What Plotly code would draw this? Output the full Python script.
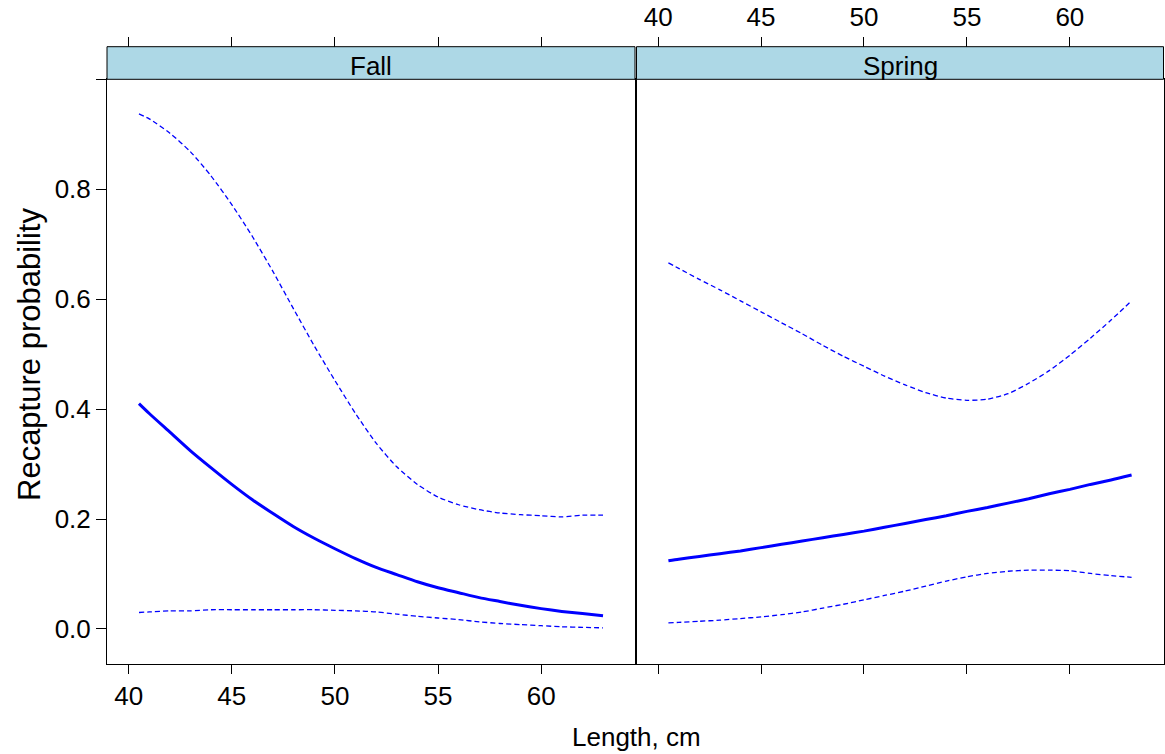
import plotly.graph_objects as go

# ---------------- data ----------------
length = [40.5, 41, 42, 43, 44, 45, 46, 47, 48, 49, 50, 51, 52, 53, 54, 55,
          56, 57, 58, 59, 60, 61, 62, 63]

fall_fit = [0.410, 0.392, 0.358, 0.324, 0.293, 0.263, 0.235, 0.210, 0.186,
            0.165, 0.146, 0.128, 0.112, 0.099, 0.086, 0.075, 0.066, 0.057,
            0.050, 0.043, 0.037, 0.032, 0.028, 0.024]
fall_upper = [0.937, 0.928, 0.902, 0.868, 0.824, 0.772, 0.714, 0.650, 0.582,
              0.515, 0.452, 0.392, 0.338, 0.295, 0.263, 0.240, 0.226, 0.217,
              0.211, 0.208, 0.206, 0.204, 0.207, 0.207]
fall_lower = [0.030, 0.031, 0.033, 0.033, 0.035, 0.035, 0.035, 0.035, 0.035,
              0.035, 0.034, 0.033, 0.031, 0.027, 0.023, 0.020, 0.017, 0.013,
              0.010, 0.008, 0.006, 0.004, 0.003, 0.002]

spring_fit = [0.124, 0.127, 0.132, 0.137, 0.142, 0.148, 0.154, 0.160, 0.166,
              0.172, 0.178, 0.185, 0.192, 0.199, 0.206, 0.214, 0.221, 0.229,
              0.237, 0.246, 0.254, 0.263, 0.271, 0.280]
spring_upper = [0.666, 0.656, 0.636, 0.617, 0.597, 0.577, 0.557, 0.537, 0.516,
                0.496, 0.478, 0.460, 0.444, 0.430, 0.420, 0.416, 0.418, 0.428,
                0.447, 0.470, 0.498, 0.529, 0.562, 0.597]
spring_lower = [0.011, 0.012, 0.014, 0.016, 0.019, 0.022, 0.026, 0.031, 0.038,
                0.045, 0.053, 0.061, 0.069, 0.078, 0.087, 0.095, 0.101, 0.105,
                0.107, 0.107, 0.106, 0.101, 0.097, 0.094]

panels = ["Fall", "Spring"]
x_ticks = [40, 45, 50, 55, 60]
y_ticks = [0.0, 0.2, 0.4, 0.6, 0.8, 1.0]
y_tick_text = ["0.0", "0.2", "0.4", "0.6", "0.8", ""]

# ---------------- layout helpers ----------------
W, H = 1165, 754
def px(x):
    return x / W
def py(y):
    return 1 - y / H

X_RANGE = [38.95, 64.55]
Y_RANGE = [-0.0628, 1.0]
FONT = "Liberation Sans, Arial, Helvetica, sans-serif"
FS = 26
FS_YT = 31
BLUE = "#0000FF"

panel_x = [(107, 635), (636.5, 1163.5)]
panel_top, panel_bot = 79.3, 663.5
strip_top = 46.7

fig = go.Figure()

series = [(fall_fit, fall_lower, fall_upper), (spring_fit, spring_lower, spring_upper)]
for i, (fit, lo, up) in enumerate(series):
    xa = "x" if i == 0 else "x2"
    ya = "y" if i == 0 else "y2"
    for vals in (up, lo):
        fig.add_trace(go.Scatter(x=length, y=vals, mode="lines", xaxis=xa, yaxis=ya,
                                 line=dict(color=BLUE, width=1.3, dash="5px,3px", shape="spline", smoothing=0.6),
                                 showlegend=False, hoverinfo="skip"))
    fig.add_trace(go.Scatter(x=length, y=fit, mode="lines", xaxis=xa, yaxis=ya,
                             line=dict(color=BLUE, width=3, shape="spline", smoothing=0.6),
                             showlegend=False))

# dummy traces so top axes are drawn
fig.add_trace(go.Scatter(x=[None], y=[None], xaxis="x3", yaxis="y", showlegend=False, hoverinfo="skip"))
fig.add_trace(go.Scatter(x=[None], y=[None], xaxis="x4", yaxis="y2", showlegend=False, hoverinfo="skip"))

common_x = dict(range=X_RANGE, tickvals=x_ticks, ticks="outside", ticklen=9,
                tickcolor="black", tickwidth=1, showgrid=False, zeroline=False,
                tickfont=dict(size=FS, color="black", family=FONT), automargin=False)
ydom = [py(panel_bot), py(panel_top)]

fig.update_layout(
    width=W, height=H,
    margin=dict(l=0, r=0, t=0, b=0),
    paper_bgcolor="white", plot_bgcolor="white",
    font=dict(family=FONT, size=FS, color="black"),
    xaxis=dict(domain=[px(panel_x[0][0]), px(panel_x[0][1])], anchor="y",
               showline=True, mirror=True, linecolor="black", linewidth=1, **common_x),
    xaxis2=dict(domain=[px(panel_x[1][0]), px(panel_x[1][1])], anchor="y2",
                showline=True, mirror=True, linecolor="black", linewidth=1,
                showticklabels=False, **common_x),
    xaxis3=dict(overlaying="x", side="top", anchor="free", position=py(strip_top),
                showline=False, showticklabels=False,
                **{**common_x, "ticklen": 10}),
    xaxis4=dict(overlaying="x2", side="top", anchor="free", position=py(strip_top),
                showline=False, showticklabels=True,
                **{**common_x, "ticklen": 10}),
    yaxis=dict(domain=ydom, anchor="x", range=Y_RANGE, tickvals=y_ticks,
               ticktext=y_tick_text, ticks="outside", ticklen=10, tickcolor="black",
               showline=True, mirror=True, linecolor="black", linewidth=1,
               showgrid=False, zeroline=False, automargin=False,
               tickfont=dict(size=FS, color="black", family=FONT)),
    yaxis2=dict(domain=ydom, anchor="x2", range=Y_RANGE, tickvals=y_ticks,
                side="right", showticklabels=False, ticks="outside", ticklen=10,
                tickcolor="black", showline=True, mirror=True, linecolor="black",
                linewidth=1, showgrid=False, zeroline=False, automargin=False),
)

shapes = []
annotations = []
for (x0, x1), name in zip(panel_x, panels):
    shapes.append(dict(type="rect", xref="paper", yref="paper",
                       x0=px(x0), x1=px(x1), y0=py(panel_top), y1=py(strip_top),
                       fillcolor="#ADD8E6", line=dict(color="black", width=1)))
    annotations.append(dict(text=name, xref="paper", yref="paper",
                            x=px((x0 + x1) / 2), y=py((strip_top + panel_top) / 2 + 3),
                            showarrow=False, xanchor="center", yanchor="middle",
                            font=dict(size=FS, color="black", family=FONT)))

annotations.append(dict(text="Length, cm", xref="paper", yref="paper",
                        x=px(636), y=py(737), showarrow=False,
                        xanchor="center", yanchor="middle",
                        font=dict(size=FS, color="black", family=FONT)))
annotations.append(dict(text="Recapture probability", xref="paper", yref="paper",
                        x=px(29), y=py(355), showarrow=False, textangle=-90,
                        xanchor="center", yanchor="middle",
                        font=dict(size=FS_YT, color="black", family=FONT)))

fig.update_layout(shapes=shapes, annotations=annotations)

fig.write_html("out.html")
